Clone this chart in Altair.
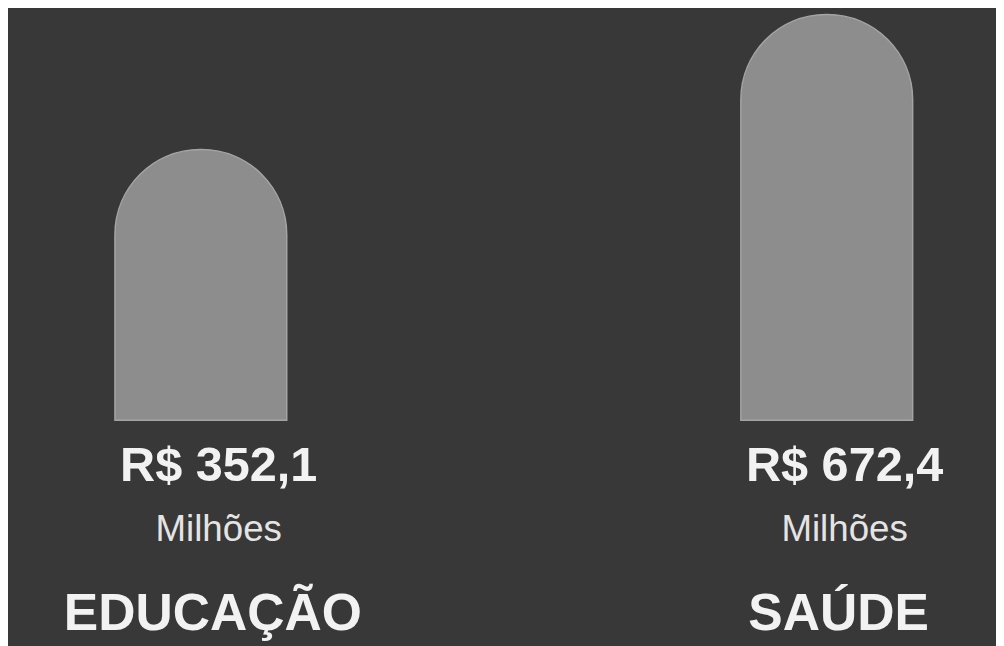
import altair as alt
import pandas as pd

categories = ["EDUCAÇÃO", "SAÚDE"]
values = [352.1, 672.4]
unit_labels = ["Milhões", "Milhões"]

df = pd.DataFrame({
    "categoria": categories,
    "valor": values,
    "unidade": unit_labels,
})
df["rotulo"] = ["R$ " + f"{v:.1f}".replace(".", ",") for v in df["valor"]]

FONT = "Liberation Sans"
BASE = -291

x_enc = alt.X(
    "categoria:N",
    sort=categories,
    axis=None,
    scale=alt.Scale(paddingInner=0.7255, paddingOuter=0.152, align=0.562),
)

bars = alt.Chart(df).mark_bar(
    color="#8d8d8d",
    stroke="#a4a4a4",
    strokeWidth=1.5,
    cornerRadiusTopLeft=86,
    cornerRadiusTopRight=86,
).encode(
    x=x_enc,
    y=alt.Y("valor:Q", axis=None, scale=alt.Scale(domain=[BASE, 672.4], range=[413, 4])),
    y2=alt.datum(BASE),
)

value_text = alt.Chart(df).mark_text(
    font=FONT, fontSize=49, fontWeight="bold", color="#f2f2f2",
    baseline="alphabetic", align="center", dx=18,
).encode(x=x_enc, y=alt.value(474), text="rotulo:N")

unit_text = alt.Chart(df).mark_text(
    font=FONT, fontSize=37, color="#e4e4e4",
    baseline="alphabetic", align="center", dx=18,
).encode(x=x_enc, y=alt.value(535), text="unidade:N")

cat_text = alt.Chart(df).mark_text(
    font=FONT, fontSize=52, fontWeight="bold", color="#f2f2f2",
    baseline="alphabetic", align="center", dx=12,
).encode(x=x_enc, y=alt.value(624), text="categoria:N")

chart = alt.layer(bars, value_text, unit_text, cat_text).properties(
    width=996,
    height=638,
    autosize=alt.AutoSizeParams(type="none"),
    padding=0,
    background="#383838",
).configure_view(stroke=None)

chart.save("out.html", embed_options={"renderer": "svg", "actions": False})
